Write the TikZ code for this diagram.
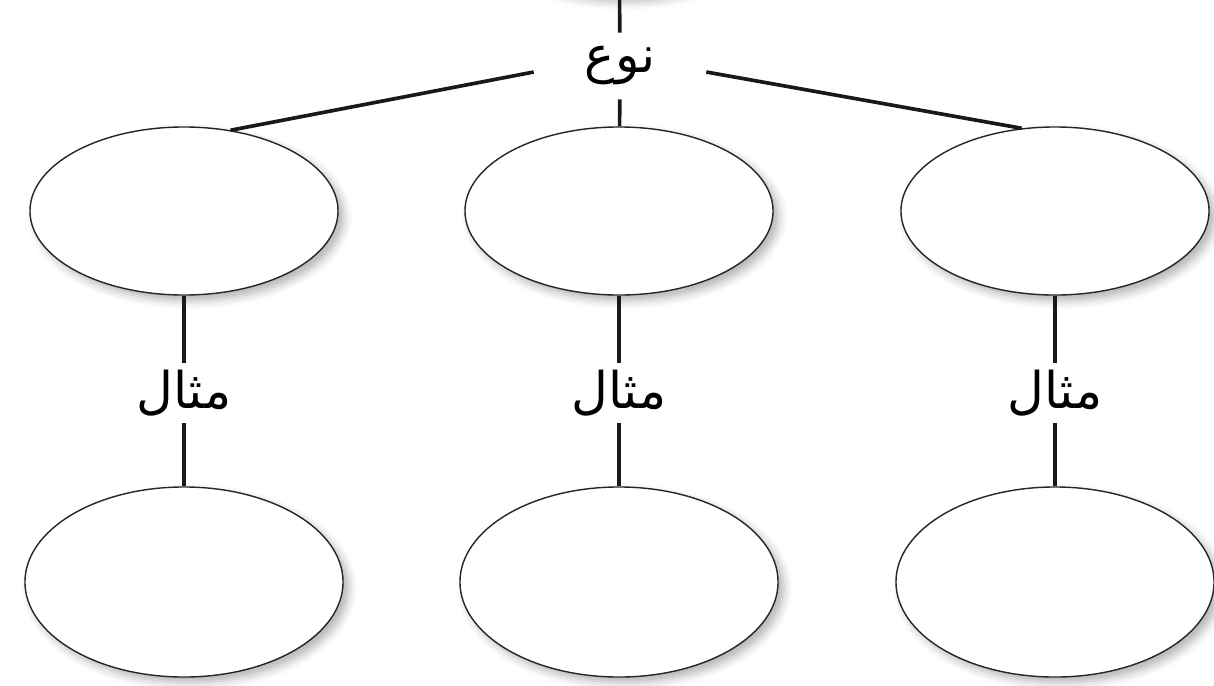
\documentclass[tikz,border=0pt]{standalone}
\usepackage{fontspec}
\newfontfamily\arabicfont[Script=Arabic]{DejaVu Sans}
\TeXXeTstate=1
\usetikzlibrary{shapes.geometric,shadows.blur}

\begin{document}
\begin{tikzpicture}[x=0.025cm,y=-0.025cm,
		bubble/.style={ellipse,draw=black!85,line width=1pt,fill=white,inner sep=0pt,
			blur shadow={shadow xshift=4pt,shadow yshift=-4pt,shadow blur radius=6pt,shadow opacity=30}},
		upbubble/.style={bubble,minimum width=7.7cm,minimum height=4.2cm},
		lowbubble/.style={bubble,minimum width=7.95cm,minimum height=4.75cm},
		word/.style={font=\arabicfont\fontsize{36}{42}\selectfont,inner sep=0pt},
		link/.style={line width=2.6pt,black!90}]
	% Frame
	\useasboundingbox (0,0) rectangle (1214,685);

	% Top bubble (cut off) and its label
	\node[upbubble] (main) at (619,-88) {};
	\node[word,minimum width=4.3cm,minimum height=1.65cm] (type) at (620,66) {\beginR نوع\endR};

	% Draw the three columns
	\foreach \n/\x in {1/184,2/619,3/1055}{
		\node[upbubble] (t\n) at (\x,211) {};
		\node[word,minimum height=1.5cm] (ex\n) at (\x,393) {\beginR مثال\endR};
		\node[lowbubble] (b\n) at (\x,582) {};
		\draw[link] (t\n) -- (ex\n);
		\draw[link] (ex\n) -- (b\n);
	}

	% Links from the label
	\draw[link] (main) -- (type);
	\draw[link] (type) -- (t2);
	\draw[link] ([yshift=-0.15cm]type.west) -- (t1.60);
	\draw[link] ([yshift=-0.15cm]type.east) -- (t3.112);
\end{tikzpicture}
\end{document}
